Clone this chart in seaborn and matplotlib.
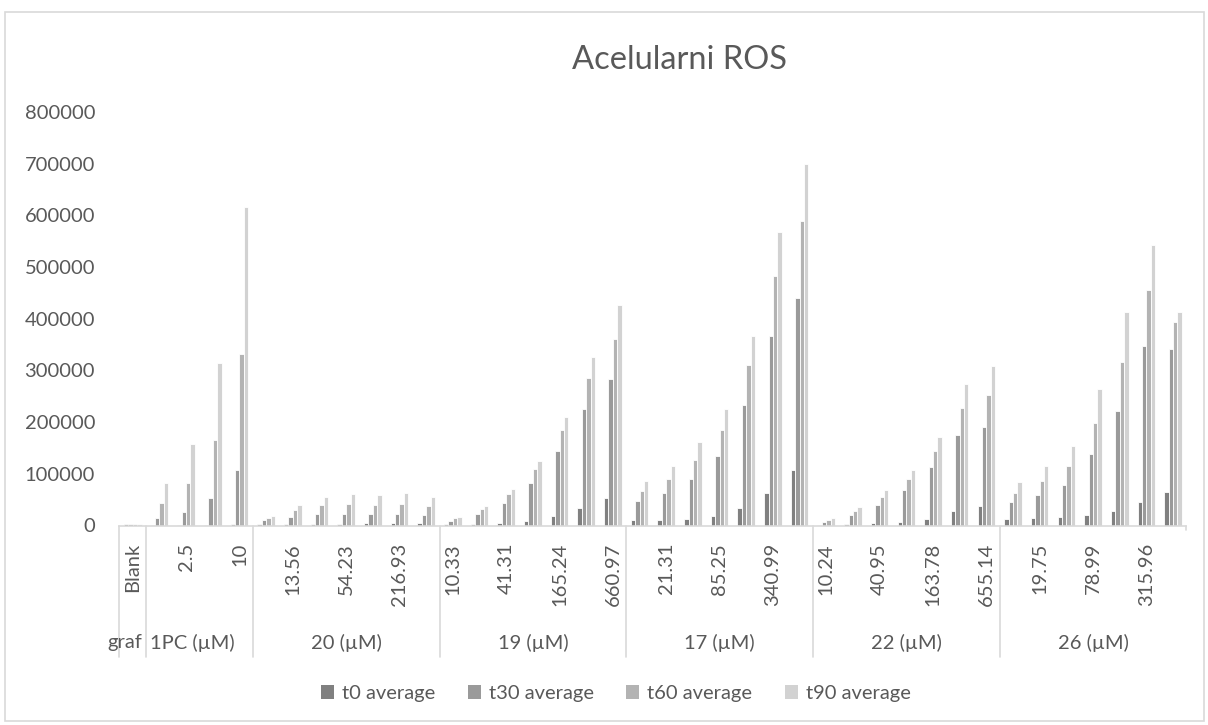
import matplotlib
matplotlib.use("Agg")
import matplotlib.pyplot as plt
from matplotlib.patches import Patch, Rectangle
import seaborn as sns
import pandas as pd

# Compound groups on the outer axis level and their concentrations (inner level)
groups = ["graf", "1PC (µM)", "20 (µM)", "19 (µM)", "17 (µM)", "22 (µM)", "26 (µM)"]
concentrations = [
    ["Blank"],
    ["1.25", "2.5", "5", "10"],
    ["6.78", "13.56", "27.12", "54.23", "108.47", "216.93", "433.86"],
    ["10.33", "20.66", "41.31", "82.62", "165.24", "330.49", "660.97"],
    ["10.66", "21.31", "42.62", "85.25", "170.50", "340.99", "681.98"],
    ["10.24", "20.47", "40.95", "81.89", "163.78", "327.57", "655.14"],
    ["9.87", "19.75", "39.50", "78.99", "157.98", "315.96", "631.92"],
]
# Group label centres on the category axis
group_label_pos = [-0.3, 2.25, 8.0, 15.0, 22.0, 29.0, 36.0]

series_names = ["t0 average", "t30 average", "t60 average", "t90 average"]
t0 = [2500, 1200, 1400, 1600, 2300,
      2500, 2500, 3000, 3500, 4000, 4000, 4500,
      2300, 3000, 4000, 8000, 17800, 33000, 52700,
      11000, 11000, 13000, 19000, 33000, 62000, 107600,
      1000, 2600, 3900, 6500, 13000, 27500, 37800,
      12600, 13900, 15800, 20300, 28700, 46000, 64300]
t30 = [3000, 14500, 26800, 53000, 107600,
       10700, 17000, 22000, 23000, 22000, 23000, 20000,
       9400, 21600, 43000, 82000, 144000, 225800, 283900,
       46900, 62400, 90000, 134700, 233500, 366000, 439500,
       6000, 19700, 40300, 68800, 112800, 176000, 191500,
       45000, 59700, 79000, 138000, 222000, 346500, 342000]
t60 = [3500, 43600, 82000, 165700, 331800,
       15000, 30600, 39000, 41700, 40000, 41700, 37000,
       13900, 31300, 60500, 109000, 184000, 285800, 361000,
       66000, 89500, 127500, 185000, 309700, 483500, 590000,
       10600, 28000, 55800, 90700, 144400, 226400, 251600,
       63600, 86800, 116000, 199000, 316800, 456000, 393800]
t90 = [3500, 83000, 158000, 315000, 616700,
       17800, 39000, 55000, 61000, 59000, 63000, 55000,
       16500, 37800, 70000, 125500, 209000, 326500, 426000,
       85600, 116000, 161800, 226000, 367000, 567000, 700000,
       14500, 36400, 68800, 107600, 171500, 273000, 309000,
       84300, 114700, 154700, 264500, 413800, 542000, 413000]

colors = ["#808080", "#9a9a9a", "#b3b3b3", "#d2d2d2"]
text_color = "#595959"
line_color = "#d9d9d9"
FS = 14.5

sns.set_style("white")
plt.rcParams["font.family"] = ["Lato", "DejaVu Sans"]
plt.rcParams["font.size"] = FS

# Flatten the two-level category axis
keys, inner_labels, boundaries = [], [], [-0.5]
for g, concs in zip(groups, concentrations):
    for c in concs:
        keys.append(f"{g} | {c}")
        inner_labels.append(c)
    boundaries.append(len(keys) - 0.5)
n = len(keys)

rows = []
for name, vals in zip(series_names, [t0, t30, t60, t90]):
    for k, v in zip(keys, vals):
        rows.append({"key": k, "series": name, "value": v})
df = pd.DataFrame(rows)

W, H = 1208, 725
fig = plt.figure(figsize=(W / 100, H / 100), dpi=100)
ax_left, ax_right, ax_base, ax_top = 119.4, 1186.4, 525.5, 112.0
ax = fig.add_axes([ax_left / W, (H - ax_base) / H,
                   (ax_right - ax_left) / W, (ax_base - ax_top) / H])

sns.barplot(data=df, x="key", y="value", hue="series", order=keys,
            hue_order=series_names, palette=colors, saturation=1,
            width=0.66, errorbar=None, edgecolor="white", linewidth=0.6,
            legend=False, ax=ax)

ax.set_xlim(-0.5, n - 0.5)
ax.set_ylim(0, 800000)
ax.set_xlabel("")
ax.set_ylabel("")
yt = list(range(0, 800001, 100000))
ax.set_yticks(yt)
ax.set_yticklabels([str(v) for v in yt], color=text_color)
ax.tick_params(axis="y", length=0, pad=17.5)

# Only every other inner label fits, as on the original axis
shown = list(range(0, n, 2))
ax.set_xticks(shown)
ax.set_xticklabels([inner_labels[i] for i in shown], rotation=90,
                   ha="center", va="top", color=text_color)
ax.tick_params(axis="x", length=0, pad=12.6)

for s in ["top", "right", "left"]:
    ax.spines[s].set_visible(False)
ax.spines["bottom"].set_color(line_color)
ax.spines["bottom"].set_linewidth(1.2)

# Group separators and the outer category labels
trans = ax.get_xaxis_transform()
axh = ax_base - ax_top
div_bottom = -(656.5 - ax_base) / axh
for b in boundaries[:-1]:
    ax.plot([b, b], [0, div_bottom], transform=trans, color=line_color,
            lw=1.2, clip_on=False)
ax.plot([boundaries[-1]] * 2, [0, -0.012], transform=trans, color=line_color,
        lw=1.2, clip_on=False)
label_y = -(642.6 - ax_base) / axh
for g, xpos in zip(groups, group_label_pos):
    ax.text(xpos, label_y, g, transform=trans, ha="center", va="center",
            color=text_color, fontsize=FS)

fig.text(679.5 / W, 1 - 60 / H, "Acelularni ROS", ha="center", va="center",
         fontsize=23.5, color=text_color)

handles = [Patch(facecolor=c, edgecolor="none") for c in colors]
leg = fig.legend(handles, series_names, loc="center", ncol=4,
                 bbox_to_anchor=(616 / W, 1 - 693.5 / H), frameon=False,
                 handlelength=0.65, handleheight=0.65, handletextpad=0.4,
                 columnspacing=1.6, fontsize=FS)
for t in leg.get_texts():
    t.set_color(text_color)

fig.patches.append(Rectangle((5 / W, 1 - 721 / H), 1199 / W, 709 / H,
                             transform=fig.transFigure, fill=False,
                             edgecolor=line_color, lw=1.2))

fig.savefig("out.png", dpi=100, facecolor="white")
